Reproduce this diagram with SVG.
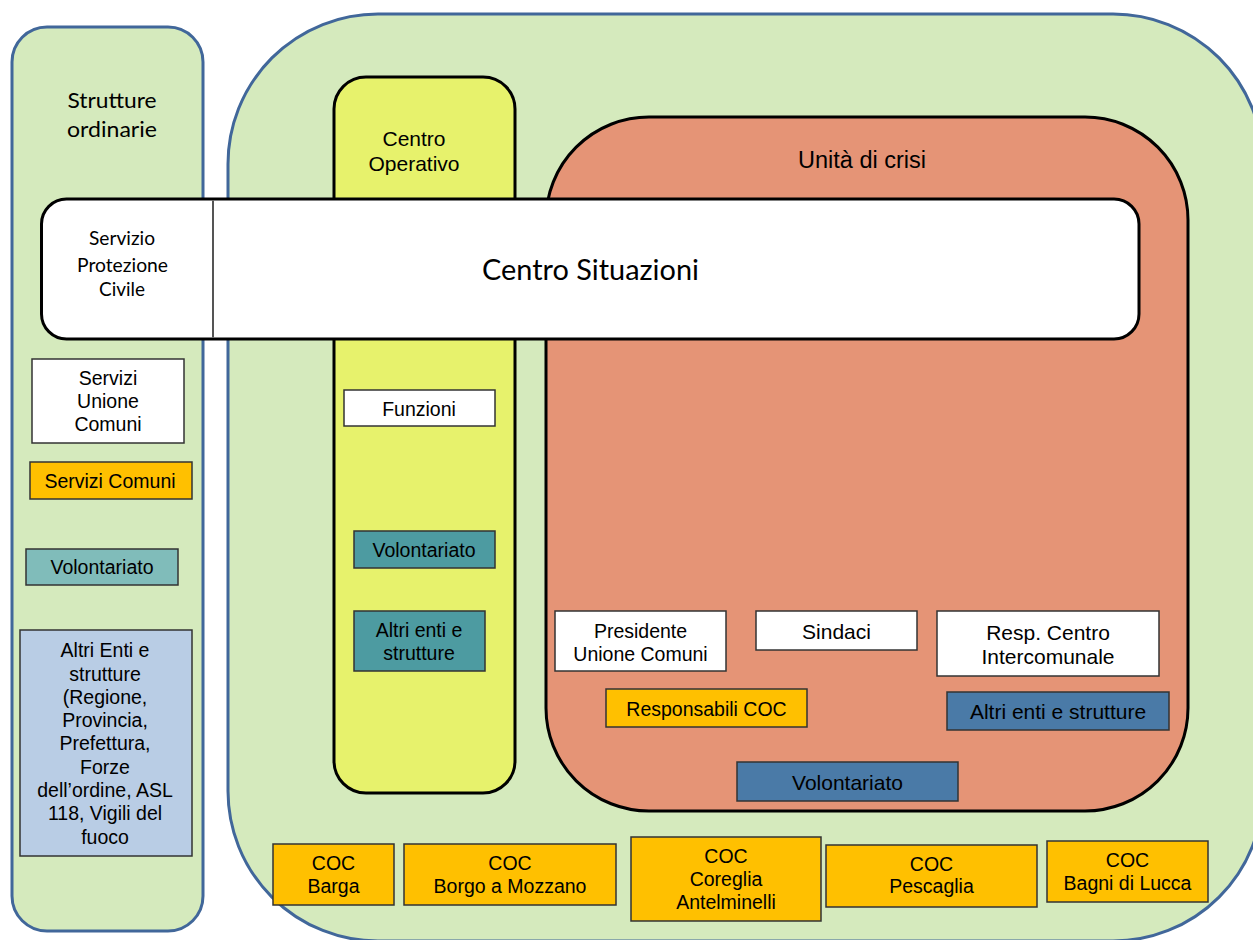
<svg xmlns="http://www.w3.org/2000/svg" width="1253" height="940" viewBox="0 0 1253 940">
  <style>
    .panel { fill: #d5eabd; stroke: #41679a; stroke-width: 3; }
    .box { stroke: #333333; stroke-width: 1.5; }
    .t { font-family: "Liberation Sans", Arial, sans-serif; font-size: 19.5px; fill: #000; text-anchor: middle; }
    .t21 { font-size: 21px; }
    .t23 { font-size: 23.5px; }
    .c { font-family: Lato, "Open Sans", sans-serif; fill: #000; text-anchor: middle; }
    .white { fill: #ffffff; }
    .orange { fill: #ffc000; }
    .tealL { fill: #80bcba; }
    .teal { fill: #4d9ba1; }
    .blue { fill: #4a7aa7; }
    .lblue { fill: #b9cde5; }
  </style>
  <rect width="1253" height="940" fill="#ffffff"/>

  <g id="centro-intercomunale">
    <rect class="panel" x="228" y="14" width="1035" height="927" rx="150" ry="150"/>
  </g>

  <g id="strutture-ordinarie">
    <rect class="panel" x="12" y="27" width="191" height="904" rx="35" ry="35"/>
    <text class="c" x="112" y="108" font-size="22" textLength="89" lengthAdjust="spacingAndGlyphs">Strutture</text>
    <text class="c" x="112" y="137" font-size="22" textLength="90" lengthAdjust="spacingAndGlyphs">ordinarie</text>
  </g>

  <g id="centro-operativo">
    <rect x="334" y="77" width="181" height="716" rx="32" ry="32" fill="#e7f26c" stroke="#000" stroke-width="3"/>
    <text class="t t21" x="414" y="146">Centro</text>
    <text class="t t21" x="414" y="171">Operativo</text>
  </g>

  <g id="unita-di-crisi">
    <rect x="546" y="117" width="642" height="694" rx="103" ry="103" fill="#e59476" stroke="#000" stroke-width="3"/>
    <text class="t t23" x="862" y="168">Unità di crisi</text>
  </g>

  <g id="centro-situazioni">
    <rect x="41.5" y="199" width="1097.5" height="140" rx="25" ry="25" fill="#ffffff" stroke="#000" stroke-width="3"/>
    <line x1="213" y1="200.5" x2="213" y2="337.5" stroke="#555555" stroke-width="2"/>
    <text class="c" x="590.5" y="280" font-size="29" textLength="217" lengthAdjust="spacingAndGlyphs">Centro Situazioni</text>
  </g>

  <g id="servizio-protezione-civile">
    <text class="c" x="122" y="245" font-size="19" textLength="66" lengthAdjust="spacingAndGlyphs">Servizio</text>
    <text class="c" x="122.5" y="271.5" font-size="19" textLength="91" lengthAdjust="spacingAndGlyphs">Protezione</text>
    <text class="c" x="122" y="296" font-size="19" textLength="46" lengthAdjust="spacingAndGlyphs">Civile</text>
  </g>

  <g id="servizi-unione-comuni">
    <rect class="box white" x="32" y="359" width="152" height="84"/>
    <text class="t" x="108" y="385">Servizi</text>
    <text class="t" x="108" y="408">Unione</text>
    <text class="t" x="108" y="431">Comuni</text>
  </g>

  <g id="servizi-comuni">
    <rect class="box orange" x="30" y="462" width="162" height="37"/>
    <text class="t" x="110" y="488">Servizi Comuni</text>
  </g>

  <g id="volontariato-ordinario">
    <rect class="box tealL" x="26" y="549" width="152" height="36"/>
    <text class="t" x="102" y="574">Volontariato</text>
  </g>

  <g id="altri-enti-ordinari">
    <rect class="box lblue" x="20" y="630" width="172" height="226"/>
    <text class="t" x="105" y="657">Altri Enti e</text>
    <text class="t" x="105" y="681">strutture</text>
    <text class="t" x="105" y="704">(Regione,</text>
    <text class="t" x="105" y="727">Provincia,</text>
    <text class="t" x="105" y="750">Prefettura,</text>
    <text class="t" x="105" y="774">Forze</text>
    <text class="t" x="105" y="797">dell’ordine, ASL</text>
    <text class="t" x="105" y="820">118, Vigili del</text>
    <text class="t" x="105" y="844">fuoco</text>
  </g>

  <g id="funzioni">
    <rect class="box white" x="344" y="390" width="151" height="36"/>
    <text class="t" x="419" y="416">Funzioni</text>
  </g>

  <g id="volontariato-operativo">
    <rect class="box teal" x="354" y="531" width="141" height="37"/>
    <text class="t" x="424" y="557">Volontariato</text>
  </g>

  <g id="altri-enti-operativo">
    <rect class="box teal" x="354" y="611" width="131" height="60"/>
    <text class="t" x="419" y="637">Altri enti e</text>
    <text class="t" x="419" y="660">strutture</text>
  </g>

  <g id="presidente-unione-comuni">
    <rect class="box white" x="555" y="611" width="171" height="60"/>
    <text class="t" x="640.5" y="638">Presidente</text>
    <text class="t" x="640.5" y="661">Unione Comuni</text>
  </g>

  <g id="sindaci">
    <rect class="box white" x="756" y="611" width="161" height="39"/>
    <text class="t t21" x="836.5" y="639">Sindaci</text>
  </g>

  <g id="resp-centro-intercomunale">
    <rect class="box white" x="937" y="611" width="222" height="65"/>
    <text class="t t21" x="1048" y="640">Resp. Centro</text>
    <text class="t t21" x="1048" y="664">Intercomunale</text>
  </g>

  <g id="responsabili-coc">
    <rect class="box orange" x="606" y="689" width="201" height="38"/>
    <text class="t" x="706.5" y="716">Responsabili COC</text>
  </g>

  <g id="altri-enti-crisi">
    <rect class="box blue" x="947" y="692" width="222" height="38"/>
    <text class="t t21" x="1058" y="719">Altri enti e strutture</text>
  </g>

  <g id="volontariato-crisi">
    <rect class="box blue" x="737" y="762" width="221" height="39"/>
    <text class="t t21" x="847.5" y="790">Volontariato</text>
  </g>

  <g id="coc-barga">
    <rect class="box orange" x="273" y="844" width="121" height="61"/>
    <text class="t" x="333.5" y="870">COC</text>
    <text class="t" x="333.5" y="893">Barga</text>
  </g>

  <g id="coc-borgo-a-mozzano">
    <rect class="box orange" x="404" y="844" width="212" height="61"/>
    <text class="t" x="510" y="870">COC</text>
    <text class="t" x="510" y="893">Borgo a Mozzano</text>
  </g>

  <g id="coc-coreglia-antelminelli">
    <rect class="box orange" x="631" y="837" width="190" height="84"/>
    <text class="t" x="726" y="863">COC</text>
    <text class="t" x="726" y="886">Coreglia</text>
    <text class="t" x="726" y="909">Antelminelli</text>
  </g>

  <g id="coc-pescaglia">
    <rect class="box orange" x="826" y="845" width="211" height="62"/>
    <text class="t" x="931.5" y="871">COC</text>
    <text class="t" x="931.5" y="893">Pescaglia</text>
  </g>

  <g id="coc-bagni-di-lucca">
    <rect class="box orange" x="1047" y="841" width="161" height="61"/>
    <text class="t" x="1127.5" y="867">COC</text>
    <text class="t" x="1127.5" y="890">Bagni di Lucca</text>
  </g>

  <g id="connectors"/>
</svg>
